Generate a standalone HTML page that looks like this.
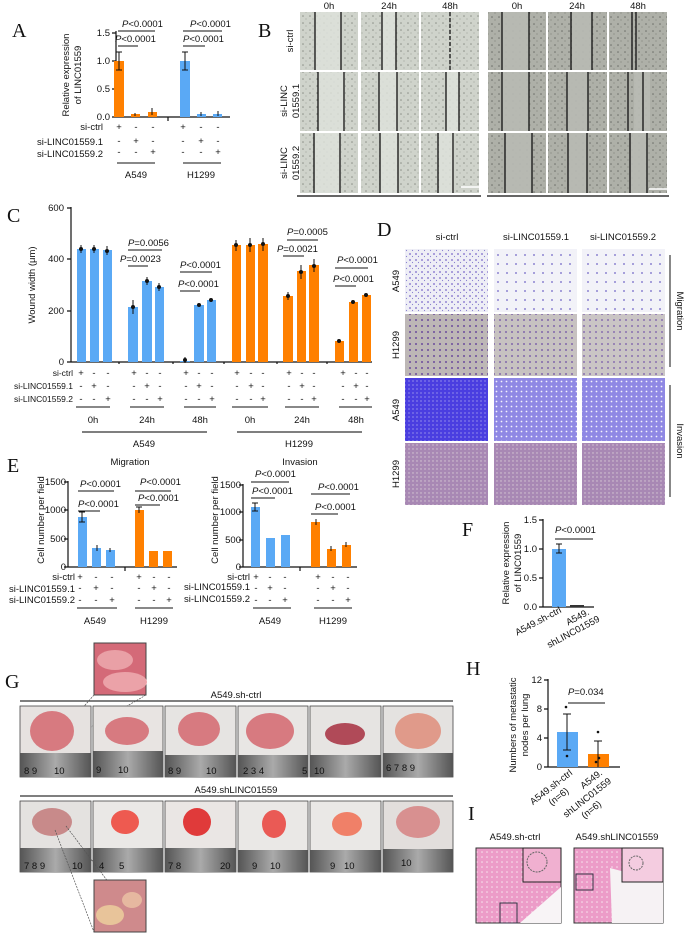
<!DOCTYPE html>
<html><head><meta charset="utf-8"><style>
html,body{margin:0;padding:0;background:#fff}
svg{display:block}
text{font-family:"Liberation Sans",sans-serif;font-size:9.5px;fill:#111}
.L{font-family:"Liberation Serif",serif;font-size:20px}
.s{font-size:8.5px}
.ax{stroke:#111;stroke-width:1.2;fill:none}
.ln{stroke:#111;stroke-width:1;fill:none}
.b{fill:#5aa9f5}.o{fill:#ff8000}
</style></head><body>
<svg width="685" height="934" viewBox="0 0 685 934" xmlns="http://www.w3.org/2000/svg">
<defs>
<pattern id="cellL" width="7" height="7" patternUnits="userSpaceOnUse"><rect width="7" height="7" fill="#cfd3cb"/><circle cx="2" cy="2" r="0.8" fill="#8c9088"/><circle cx="5" cy="5" r="0.6" fill="#a0a49c"/></pattern>
<pattern id="cellD" width="7" height="7" patternUnits="userSpaceOnUse"><rect width="7" height="7" fill="#aeb0a8"/><circle cx="2" cy="3" r="0.8" fill="#6c6e68"/><circle cx="5" cy="6" r="0.6" fill="#80827c"/></pattern>
<pattern id="migA" width="6" height="6" patternUnits="userSpaceOnUse"><rect width="6" height="6" fill="#eeeef6"/><circle cx="2" cy="2" r="0.9" fill="#7a66c8"/><circle cx="4.5" cy="4.5" r="0.6" fill="#8a80d0"/></pattern>
<pattern id="migS" width="9" height="9" patternUnits="userSpaceOnUse"><rect width="9" height="9" fill="#f2f2f8"/><circle cx="3" cy="3" r="0.9" fill="#6f64c6"/></pattern>
<pattern id="migH" width="6" height="6" patternUnits="userSpaceOnUse"><rect width="6" height="6" fill="#bdb7b6"/><circle cx="2" cy="2" r="1" fill="#6b4c9c"/></pattern>
<pattern id="invA" width="4" height="4" patternUnits="userSpaceOnUse"><rect width="4" height="4" fill="#4a3ee0"/><circle cx="1" cy="1" r="0.6" fill="#c0c0f2"/></pattern>
<pattern id="invS" width="5" height="5" patternUnits="userSpaceOnUse"><rect width="5" height="5" fill="#8f88e4"/><circle cx="1.5" cy="1.5" r="0.9" fill="#f2f2fc"/></pattern>
<pattern id="invH" width="4" height="4" patternUnits="userSpaceOnUse"><rect width="4" height="4" fill="#a888b4"/><circle cx="1" cy="1" r="0.7" fill="#d8ccd6"/></pattern>
<pattern id="he" width="5" height="5" patternUnits="userSpaceOnUse"><rect width="5" height="5" fill="#ec9cc8"/><circle cx="2" cy="2" r="0.8" fill="#f8e4ee"/></pattern>
<linearGradient id="rul" x1="0" y1="0" x2="1" y2="0"><stop offset="0" stop-color="#555"/><stop offset="0.5" stop-color="#aaa"/><stop offset="1" stop-color="#555"/></linearGradient>
</defs>

<!-- ===== A ===== -->
<text x="12" y="37" class="L">A</text>
<g transform="translate(73,75) rotate(-90)"><text x="0" y="-4" text-anchor="middle">Relative expression</text><text x="0" y="8" text-anchor="middle">of LINC01559</text></g>
<path class="ax" d="M116,31V117H230M112,33H116M112,61H116M112,89H116M112,117H116M168,117V121"/>
<text x="110" y="36" text-anchor="end">1.5</text><text x="110" y="64" text-anchor="end">1.0</text><text x="110" y="92" text-anchor="end">0.5</text><text x="110" y="120" text-anchor="end">0.0</text>
<rect class="o" x="114" y="61" width="10" height="56"/><rect class="o" x="131" y="114" width="9" height="3"/><rect class="o" x="148" y="112" width="9" height="5"/>
<rect class="b" x="180" y="61" width="10" height="56"/><rect class="b" x="197" y="114" width="9" height="3"/><rect class="b" x="213" y="114" width="9" height="3"/>
<path class="ln" d="M119,52V70M116,52H122M116,70H122M185,52V70M182,52H188M182,70H188M135,113V116M152,108V115M201,112V116M218,111V116"/>
<text x="122" y="27"><tspan font-style="italic">P</tspan>&lt;0.0001</text><path class="ln" d="M118,31H155"/>
<text x="115" y="42"><tspan font-style="italic">P</tspan>&lt;0.0001</text><path class="ln" d="M118,46H138"/>
<text x="190" y="27"><tspan font-style="italic">P</tspan>&lt;0.0001</text><path class="ln" d="M183,31H222"/>
<text x="183" y="42"><tspan font-style="italic">P</tspan>&lt;0.0001</text><path class="ln" d="M183,46H205"/>
<text x="103" y="130" text-anchor="end">si-ctrl</text><text x="103" y="145" text-anchor="end">si-LINC01559.1</text><text x="103" y="157" text-anchor="end">si-LINC01559.2</text>
<g text-anchor="middle">
<text x="119" y="130">+</text><text x="136" y="130">-</text><text x="153" y="130">-</text><text x="183" y="130">+</text><text x="201" y="130">-</text><text x="218" y="130">-</text>
<text x="119" y="144">-</text><text x="136" y="144">+</text><text x="153" y="144">-</text><text x="183" y="144">-</text><text x="201" y="144">+</text><text x="218" y="144">-</text>
<text x="119" y="155">-</text><text x="136" y="155">-</text><text x="153" y="155">+</text><text x="183" y="155">-</text><text x="201" y="155">-</text><text x="218" y="155">+</text>
<text x="136" y="178">A549</text><text x="201" y="178">H1299</text></g>
<path class="ln" d="M117,163H155M183,163H221"/>

<!-- ===== B ===== -->
<text x="258" y="37" class="L">B</text>
<g text-anchor="middle"><text x="329" y="9">0h</text><text x="389" y="9">24h</text><text x="450" y="9">48h</text><text x="517" y="9">0h</text><text x="577" y="9">24h</text><text x="638" y="9">48h</text></g>
<g transform="translate(293,41) rotate(-90)"><text text-anchor="middle">si-ctrl</text></g>
<g transform="translate(287,101) rotate(-90)"><text text-anchor="middle">si-LINC</text><text y="12" text-anchor="middle">01559.1</text></g>
<g transform="translate(287,163) rotate(-90)"><text text-anchor="middle">si-LINC</text><text y="12" text-anchor="middle">01559.2</text></g>
<g fill="url(#cellL)"><rect x="300" y="12" width="58" height="58"/><rect x="361" y="12" width="58" height="58"/><rect x="421" y="12" width="58" height="58"/>
<rect x="300" y="72" width="58" height="59"/><rect x="361" y="72" width="58" height="59"/><rect x="421" y="72" width="58" height="59"/>
<rect x="300" y="133" width="58" height="60"/><rect x="361" y="133" width="58" height="60"/><rect x="421" y="133" width="58" height="60"/></g>
<g fill="url(#cellD)"><rect x="488" y="12" width="58" height="58"/><rect x="548" y="12" width="59" height="58"/><rect x="609" y="12" width="58" height="58"/>
<rect x="488" y="72" width="58" height="59"/><rect x="548" y="72" width="59" height="59"/><rect x="609" y="72" width="58" height="59"/>
<rect x="488" y="133" width="58" height="60"/><rect x="548" y="133" width="59" height="60"/><rect x="609" y="133" width="58" height="60"/></g>
<g fill="#dfe3dc" opacity="0.8"><rect x="315" y="12" width="26" height="58"/><rect x="318" y="72" width="27" height="59"/><rect x="315" y="133" width="26" height="60"/>
<rect x="382" y="12" width="14" height="58"/><rect x="379" y="72" width="18" height="59"/><rect x="380" y="133" width="18" height="60"/><rect x="446" y="72" width="13" height="59"/><rect x="439" y="133" width="15" height="60"/></g>
<g fill="#b9bbb4" opacity="0.9"><rect x="502" y="12" width="27" height="58"/><rect x="502" y="72" width="27" height="59"/><rect x="505" y="133" width="27" height="60"/><rect x="572" y="12" width="20" height="58"/><rect x="567" y="72" width="21" height="59"/><rect x="568" y="133" width="19" height="60"/><rect x="634" y="72" width="16" height="59"/><rect x="631" y="133" width="17" height="60"/></g>
<g stroke="#111" stroke-width="1.3"><path d="M315,12V70M341,12V70M382,12V70M396,12V70M318,72V131M344,72V131M379,72V131M397,72V131M446,72V131M459,72V131M314,133V193M340,133V193M380,133V193M398,133V193M438,133V193M453,133V193"/>
<path d="M450,12V70" stroke-dasharray="4,2"/>
<path d="M502,12V70M529,12V70M571,12V70M592,12V70M632,12V70M636,12V70M502,72V131M529,72V131M567,72V131M588,72V131M628,72V131M643,72V131M505,133V193M532,133V193M568,133V193M587,133V193M630,133V193M647,133V193"/></g>
<path d="M461,187H479M649,189H667" stroke="#fff" stroke-width="1.5"/>
<path d="M297,196H481M487,196H669" stroke="#333" stroke-width="1.5"/>

<!-- ===== C ===== -->
<text x="7" y="222" class="L">C</text>
<g transform="translate(35,285) rotate(-90)"><text text-anchor="middle">Wound width (μm)</text></g>
<path class="ax" d="M71,207V362H372M67,208H71M67,259H71M67,311H71M67,362H71M119,362V364M173,362V364M224,362V364M277,362V364M327,362V364"/>
<text x="64" y="211" text-anchor="end">600</text><text x="64" y="262" text-anchor="end">400</text><text x="64" y="314" text-anchor="end">200</text><text x="64" y="365" text-anchor="end">0</text>
<g class="b"><rect x="77" y="249" width="9" height="113"/><rect x="90" y="249" width="9" height="113"/><rect x="103" y="250" width="9" height="112"/>
<rect x="128" y="307" width="10" height="55"/><rect x="142" y="281" width="10" height="81"/><rect x="155" y="287" width="9" height="75"/>
<rect x="180" y="361" width="10" height="1"/><rect x="194" y="305" width="10" height="57"/><rect x="207" y="300" width="9" height="62"/></g>
<g class="o"><rect x="232" y="245" width="9" height="117"/><rect x="246" y="245" width="9" height="117"/><rect x="258" y="244" width="10" height="118"/>
<rect x="283" y="296" width="10" height="66"/><rect x="297" y="271" width="9" height="91"/><rect x="309" y="265" width="10" height="97"/>
<rect x="335" y="341" width="9" height="21"/><rect x="349" y="302" width="9" height="60"/><rect x="362" y="295" width="9" height="67"/></g>
<g fill="#111"><circle cx="81" cy="249" r="2"/><circle cx="94" cy="249" r="2"/><circle cx="107" cy="251" r="2"/><circle cx="133" cy="307" r="2"/><circle cx="147" cy="281" r="2"/><circle cx="159" cy="287" r="2"/><circle cx="185" cy="360" r="2"/><circle cx="199" cy="305" r="2"/><circle cx="211" cy="300" r="2"/>
<circle cx="236" cy="245" r="2"/><circle cx="250" cy="245" r="2"/><circle cx="263" cy="244" r="2"/><circle cx="288" cy="296" r="2"/><circle cx="301" cy="272" r="2"/><circle cx="314" cy="266" r="2"/><circle cx="339" cy="341" r="2"/><circle cx="353" cy="302" r="2"/><circle cx="366" cy="295" r="2"/></g>
<path class="ln" d="M81,245V253M94,245V253M107,246V255M133,300V314M147,277V285M159,283V291M185,357V363M236,240V251M250,238V252M263,238V251M288,292V300M301,265V279M314,259V272"/>
<text x="128" y="246"><tspan font-style="italic">P</tspan>=0.0056</text><path class="ln" d="M128,250H162"/>
<text x="120" y="262"><tspan font-style="italic">P</tspan>=0.0023</text><path class="ln" d="M128,266H148"/>
<text x="180" y="268"><tspan font-style="italic">P</tspan>&lt;0.0001</text><path class="ln" d="M180,272H212"/>
<text x="178" y="287"><tspan font-style="italic">P</tspan>&lt;0.0001</text><path class="ln" d="M180,291H200"/>
<text x="287" y="235"><tspan font-style="italic">P</tspan>=0.0005</text><path class="ln" d="M287,240H318"/>
<text x="277" y="252"><tspan font-style="italic">P</tspan>=0.0021</text><path class="ln" d="M283,256H304"/>
<text x="337" y="263"><tspan font-style="italic">P</tspan>&lt;0.0001</text><path class="ln" d="M335,268H368"/>
<text x="333" y="282"><tspan font-style="italic">P</tspan>&lt;0.0001</text><path class="ln" d="M335,286H356"/>
<text x="73" y="376" text-anchor="end" class="s">si-ctrl</text><text x="73" y="389" text-anchor="end" class="s">si-LINC01559.1</text><text x="73" y="402" text-anchor="end" class="s">si-LINC01559.2</text>
<g text-anchor="middle" class="s">
<text x="81" y="376">+</text><text x="94" y="376">-</text><text x="108" y="376">-</text><text x="134" y="376">+</text><text x="147" y="376">-</text><text x="160" y="376">-</text><text x="186" y="376">+</text><text x="199" y="376">-</text><text x="212" y="376">-</text><text x="237" y="376">+</text><text x="251" y="376">-</text><text x="263" y="376">-</text><text x="289" y="376">+</text><text x="302" y="376">-</text><text x="314" y="376">-</text><text x="343" y="376">+</text><text x="356" y="376">-</text><text x="367" y="376">-</text>
<text x="81" y="389">-</text><text x="94" y="389">+</text><text x="108" y="389">-</text><text x="134" y="389">-</text><text x="147" y="389">+</text><text x="160" y="389">-</text><text x="186" y="389">-</text><text x="199" y="389">+</text><text x="212" y="389">-</text><text x="237" y="389">-</text><text x="251" y="389">+</text><text x="263" y="389">-</text><text x="289" y="389">-</text><text x="302" y="389">+</text><text x="314" y="389">-</text><text x="343" y="389">-</text><text x="356" y="389">+</text><text x="367" y="389">-</text>
<text x="81" y="402">-</text><text x="94" y="402">-</text><text x="108" y="402">+</text><text x="134" y="402">-</text><text x="147" y="402">-</text><text x="160" y="402">+</text><text x="186" y="402">-</text><text x="199" y="402">-</text><text x="212" y="402">+</text><text x="237" y="402">-</text><text x="251" y="402">-</text><text x="263" y="402">+</text><text x="289" y="402">-</text><text x="302" y="402">-</text><text x="314" y="402">+</text><text x="343" y="402">-</text><text x="356" y="402">-</text><text x="367" y="402">+</text></g>
<path class="ln" d="M76,407H110M130,407H164M184,407H216M232,407H268M285,407H319M339,407H372"/>
<g text-anchor="middle"><text x="93" y="423">0h</text><text x="147" y="423">24h</text><text x="200" y="423">48h</text><text x="250" y="423">0h</text><text x="302" y="423">24h</text><text x="356" y="423">48h</text>
<text x="144" y="447">A549</text><text x="299" y="447">H1299</text></g>
<path d="M82,432H207M237,432H362" stroke="#333" stroke-width="1.3"/>

<!-- ===== D ===== -->
<text x="377" y="236" class="L">D</text>
<g text-anchor="middle"><text x="447" y="240">si-ctrl</text><text x="536" y="240">si-LINC01559.1</text><text x="623" y="240">si-LINC01559.2</text></g>
<rect x="405" y="249" width="83" height="63" fill="url(#migA)"/><rect x="494" y="249" width="83" height="63" fill="url(#migS)"/><rect x="582" y="249" width="83" height="63" fill="url(#migS)"/>
<rect x="405" y="314" width="83" height="62" fill="url(#migH)"/><rect x="494" y="314" width="83" height="62" fill="url(#migH)" opacity="0.85"/><rect x="582" y="314" width="83" height="62" fill="url(#migH)" opacity="0.8"/>
<rect x="405" y="378" width="83" height="63" fill="url(#invA)"/><rect x="494" y="378" width="83" height="63" fill="url(#invS)"/><rect x="582" y="378" width="83" height="63" fill="url(#invS)"/>
<rect x="405" y="443" width="83" height="62" fill="url(#invH)"/><rect x="494" y="443" width="83" height="62" fill="url(#invH)"/><rect x="582" y="443" width="83" height="62" fill="url(#invH)"/>
<g transform="translate(399,281) rotate(-90)"><text text-anchor="middle">A549</text></g>
<g transform="translate(399,345) rotate(-90)"><text text-anchor="middle">H1299</text></g>
<g transform="translate(399,410) rotate(-90)"><text text-anchor="middle">A549</text></g>
<g transform="translate(399,474) rotate(-90)"><text text-anchor="middle">H1299</text></g>
<path class="ln" d="M670,255V367M670,385V497"/>
<g transform="translate(677,311) rotate(90)"><text text-anchor="middle">Migration</text></g>
<g transform="translate(677,441) rotate(90)"><text text-anchor="middle">Invasion</text></g>

<!-- ===== E ===== -->
<text x="7" y="472" class="L">E</text>
<text x="130" y="465" text-anchor="middle">Migration</text><text x="300" y="465" text-anchor="middle">Invasion</text>
<g transform="translate(44,520) rotate(-90)"><text text-anchor="middle">Cell number  per field</text></g>
<g transform="translate(218,520) rotate(-90)"><text text-anchor="middle">Cell number  per field</text></g>
<path class="ax" d="M68,481V567H177M64,482H68M64,510H68M64,539H68M64,567H68M125,567V571"/>
<text x="66" y="485" text-anchor="end">1500</text><text x="66" y="513" text-anchor="end">1000</text><text x="66" y="542" text-anchor="end">500</text><text x="66" y="570" text-anchor="end">0</text>
<rect class="b" x="78" y="517" width="9" height="50"/><rect class="b" x="92" y="548" width="9" height="19"/><rect class="b" x="106" y="550" width="9" height="17"/>
<rect class="o" x="135" y="510" width="9" height="57"/><rect class="o" x="149" y="551" width="9" height="16"/><rect class="o" x="163" y="551" width="9" height="16"/>
<path class="ln" d="M82,512V522M79,512H85M79,522H85M97,545V551M110,548V552M139,507V513M136,507H142"/>
<text x="80" y="487"><tspan font-style="italic">P</tspan>&lt;0.0001</text><path class="ln" d="M78,491H114"/>
<text x="78" y="507"><tspan font-style="italic">P</tspan>&lt;0.0001</text><path class="ln" d="M78,511H100"/>
<text x="140" y="485"><tspan font-style="italic">P</tspan>&lt;0.0001</text><path class="ln" d="M135,491H171"/>
<text x="138" y="501"><tspan font-style="italic">P</tspan>&lt;0.0001</text><path class="ln" d="M135,505H160"/>
<path class="ax" d="M243,484V567H357M239,485H243M239,512H243M239,540H243M239,567H243M300,567V571"/>
<text x="241" y="488" text-anchor="end">1500</text><text x="241" y="515" text-anchor="end">1000</text><text x="241" y="543" text-anchor="end">500</text><text x="241" y="570" text-anchor="end">0</text>
<rect class="b" x="251" y="507" width="9" height="60"/><rect class="b" x="266" y="538" width="9" height="29"/><rect class="b" x="281" y="535" width="9" height="32"/>
<rect class="o" x="311" y="522" width="9" height="45"/><rect class="o" x="327" y="549" width="9" height="18"/><rect class="o" x="342" y="545" width="9" height="22"/>
<path class="ln" d="M255,503V511M252,503H258M252,511H258M316,519V525M331,546V551M346,542V547"/>
<text x="255" y="477"><tspan font-style="italic">P</tspan>&lt;0.0001</text><path class="ln" d="M251,482H289"/>
<text x="252" y="494"><tspan font-style="italic">P</tspan>&lt;0.0001</text><path class="ln" d="M251,498H275"/>
<text x="318" y="490"><tspan font-style="italic">P</tspan>&lt;0.0001</text><path class="ln" d="M311,494H350"/>
<text x="315" y="510"><tspan font-style="italic">P</tspan>&lt;0.0001</text><path class="ln" d="M311,514H338"/>
<text x="75" y="580" text-anchor="end">si-ctrl</text><text x="75" y="592" text-anchor="end">si-LINC01559.1</text><text x="75" y="603" text-anchor="end">si-LINC01559.2</text>
<text x="250" y="580" text-anchor="end">si-ctrl</text><text x="250" y="590" text-anchor="end">si-LINC01559.1</text><text x="250" y="602" text-anchor="end">si-LINC01559.2</text>
<g text-anchor="middle">
<text x="80" y="580">+</text><text x="96" y="580">-</text><text x="112" y="580">-</text><text x="139" y="580">+</text><text x="154" y="580">-</text><text x="169" y="580">-</text>
<text x="80" y="591">-</text><text x="96" y="591">+</text><text x="112" y="591">-</text><text x="139" y="591">-</text><text x="154" y="591">+</text><text x="169" y="591">-</text>
<text x="80" y="603">-</text><text x="96" y="603">-</text><text x="112" y="603">+</text><text x="139" y="603">-</text><text x="154" y="603">-</text><text x="169" y="603">+</text>
<text x="256" y="580">+</text><text x="270" y="580">-</text><text x="285" y="580">-</text><text x="318" y="580">+</text><text x="333" y="580">-</text><text x="348" y="580">-</text>
<text x="256" y="591">-</text><text x="270" y="591">+</text><text x="285" y="591">-</text><text x="318" y="591">-</text><text x="333" y="591">+</text><text x="348" y="591">-</text>
<text x="256" y="603">-</text><text x="270" y="603">-</text><text x="285" y="603">+</text><text x="318" y="603">-</text><text x="333" y="603">-</text><text x="348" y="603">+</text>
<text x="95" y="624">A549</text><text x="154" y="624">H1299</text><text x="270" y="624">A549</text><text x="333" y="624">H1299</text></g>
<path class="ln" d="M77,608H117M135,608H173M253,608H291M314,608H352"/>

<!-- ===== F ===== -->
<text x="462" y="536" class="L">F</text>
<g transform="translate(513,563) rotate(-90)"><text y="-4" text-anchor="middle">Relative expression</text><text y="8" text-anchor="middle">of LINC01559</text></g>
<path class="ax" d="M543,519V607H594M539,520H543M539,549H543M539,578H543M539,607H543"/>
<text x="537" y="523" text-anchor="end">1.5</text><text x="537" y="552" text-anchor="end">1.0</text><text x="537" y="581" text-anchor="end">0.5</text><text x="537" y="610" text-anchor="end">0.0</text>
<rect class="b" x="552" y="549" width="14" height="58"/><rect fill="#333" x="570" y="605" width="14" height="2"/>
<path class="ln" d="M559,544V553M556,544H562M556,553H562"/>
<text x="555" y="533"><tspan font-style="italic">P</tspan>&lt;0.0001</text><path class="ln" d="M555,539H593"/>
<g transform="translate(562,612) rotate(-28)"><text text-anchor="end">A549.sh-ctrl</text></g>
<g transform="translate(590,614) rotate(-28)"><text text-anchor="end">A549.</text><text x="6" y="11" text-anchor="end">shLINC01559</text></g>

<!-- ===== H ===== -->
<text x="466" y="675" class="L">H</text>
<g transform="translate(520,725) rotate(-90)"><text y="-4" text-anchor="middle">Numbers of metastatic</text><text y="8" text-anchor="middle">nodes per lung</text></g>
<path class="ax" d="M548,679V767H620M544,680H548M544,709H548M544,738H548M544,767H548"/>
<text x="542" y="683" text-anchor="end">12</text><text x="542" y="712" text-anchor="end">8</text><text x="542" y="741" text-anchor="end">4</text><text x="542" y="770" text-anchor="end">0</text>
<rect class="b" x="557" y="732" width="21" height="35"/><rect class="o" x="588" y="754" width="21" height="13"/>
<path class="ln" d="M567,714V750M563,714H571M563,750H571M598,741V767M594,741H602"/>
<g fill="#111"><circle cx="566" cy="707" r="1.3"/><circle cx="567" cy="756" r="1.3"/><circle cx="598" cy="732" r="1.3"/><circle cx="599" cy="758" r="1.3"/><circle cx="596" cy="762" r="1.3"/></g>
<text x="568" y="695"><tspan font-style="italic">P</tspan>=0.034</text><path class="ln" d="M568,703H605"/>
<g transform="translate(573,774) rotate(-38)"><text text-anchor="end">A549.sh-ctrl</text><text x="-14" y="12" text-anchor="end">(n=6)</text></g>
<g transform="translate(603,774) rotate(-38)"><text text-anchor="end">A549.</text><text x="2" y="12" text-anchor="end">shLINC01559</text><text x="-20" y="24" text-anchor="end">(n=6)</text></g>

<!-- ===== I ===== -->
<text x="468" y="820" class="L">I</text>
<text x="515" y="840" text-anchor="middle">A549.sh-ctrl</text><text x="617" y="840" text-anchor="middle">A549.shLINC01559</text>
<rect x="476" y="848" width="85" height="75" fill="url(#he)" stroke="#333"/>
<path d="M520,923L561,887V923Z" fill="#f8f4f6"/>
<rect x="523" y="848" width="38" height="34" fill="#f0b0d0" stroke="#222"/><circle cx="537" cy="862" r="10" fill="none" stroke="#666" stroke-dasharray="2,1"/>
<rect x="500" y="903" width="17" height="20" fill="none" stroke="#334"/>
<rect x="574" y="848" width="89" height="75" fill="url(#he)" stroke="#333"/>
<path d="M610,868L663,882V923H612Z" fill="#f6f2f4"/>
<rect x="622" y="848" width="41" height="34" fill="#f4cce0" stroke="#222"/><circle cx="636" cy="863" r="7" fill="none" stroke="#666" stroke-dasharray="2,1"/>
<rect x="576" y="874" width="17" height="16" fill="none" stroke="#334"/>

<!-- ===== G ===== -->
<text x="5" y="688" class="L">G</text>
<rect x="94" y="643" width="52" height="52" fill="#d46a78" stroke="#444"/>
<ellipse cx="115" cy="660" rx="18" ry="10" fill="#e9a0a6"/><ellipse cx="125" cy="682" rx="22" ry="10" fill="#eba2a8"/>
<path d="M94,695L55,739M146,695L60,745" stroke="#555" stroke-width="0.7" stroke-dasharray="2,1"/>
<text x="236" y="698" text-anchor="middle">A549.sh-ctrl</text>
<path d="M20,701H453" stroke="#555" stroke-width="1.5"/>
<g stroke="#444" stroke-width="0.8">
<rect x="20" y="706" width="71" height="71" fill="#e6e2e0"/><rect x="93" y="706" width="70" height="71" fill="#e8e4e2"/><rect x="165" y="706" width="71" height="71" fill="#e6e4e2"/><rect x="238" y="706" width="70" height="71" fill="#e8e6e4"/><rect x="310" y="706" width="71" height="71" fill="#e6e4e2"/><rect x="383" y="706" width="70" height="71" fill="#e4e2e0"/>
<rect x="20" y="801" width="71" height="71" fill="#e4e2e0"/><rect x="93" y="801" width="70" height="71" fill="#eae8e6"/><rect x="165" y="801" width="71" height="71" fill="#eae6e4"/><rect x="238" y="801" width="70" height="71" fill="#eae8e6"/><rect x="310" y="801" width="71" height="71" fill="#eae8e6"/><rect x="383" y="801" width="70" height="71" fill="#e2dedc"/></g>
<g fill="url(#rul)"><rect x="20" y="753" width="71" height="24"/><rect x="93" y="751" width="70" height="26"/><rect x="165" y="755" width="71" height="22"/><rect x="238" y="755" width="70" height="22"/><rect x="310" y="755" width="71" height="22"/><rect x="383" y="753" width="70" height="24"/>
<rect x="20" y="848" width="71" height="24"/><rect x="93" y="848" width="70" height="24"/><rect x="165" y="848" width="71" height="24"/><rect x="238" y="850" width="70" height="22"/><rect x="310" y="850" width="71" height="22"/><rect x="383" y="849" width="70" height="23"/></g>
<g fill="#d77a80"><ellipse cx="52" cy="731" rx="22" ry="20"/><ellipse cx="127" cy="731" rx="22" ry="14"/><ellipse cx="199" cy="729" rx="21" ry="17"/><ellipse cx="270" cy="731" rx="24" ry="18"/><ellipse cx="345" cy="734" rx="20" ry="11" fill="#b04a58"/><ellipse cx="418" cy="731" rx="23" ry="18" fill="#e09a8a"/>
<ellipse cx="52" cy="822" rx="20" ry="14" fill="#c88a8a"/><ellipse cx="125" cy="822" rx="14" ry="12" fill="#ee5a50"/><ellipse cx="197" cy="822" rx="14" ry="14" fill="#e03a3a"/><ellipse cx="274" cy="824" rx="12" ry="14" fill="#ea5a55"/><ellipse cx="347" cy="824" rx="15" ry="12" fill="#f08068"/><ellipse cx="418" cy="822" rx="22" ry="16" fill="#d89090"/></g>
<g font-size="9" fill="#eee"><text x="24" y="774" fill="#ddd">8  9</text><text x="54" y="774" fill="#c33">10</text><text x="96" y="773" fill="#ddd">9</text><text x="118" y="773" fill="#c33">10</text><text x="168" y="774" fill="#ddd">8  9</text><text x="206" y="774" fill="#c33">10</text><text x="243" y="774" fill="#ddd">2  3  4</text><text x="302" y="774" fill="#c33">5</text><text x="314" y="774" fill="#c33">10</text><text x="386" y="771" fill="#ddd">6  7  8  9</text>
<text x="24" y="869" fill="#ddd">7  8  9</text><text x="72" y="869" fill="#c33">10</text><text x="99" y="869" fill="#ddd">4</text><text x="119" y="869" fill="#c33">5</text><text x="168" y="869" fill="#ddd">7  8</text><text x="220" y="869" fill="#c33">20</text><text x="252" y="869" fill="#ddd">9</text><text x="270" y="869" fill="#c33">10</text><text x="330" y="869" fill="#ddd">9</text><text x="344" y="869" fill="#c33">10</text><text x="401" y="866" fill="#c33">10</text></g>
<text x="236" y="793" text-anchor="middle">A549.shLINC01559</text>
<path d="M20,796H453" stroke="#555" stroke-width="1.5"/>
<path d="M55,830L94,932M66,826L146,932" stroke="#555" stroke-width="0.7" stroke-dasharray="2,1"/>
<rect x="94" y="880" width="52" height="52" fill="#cf8a8c" stroke="#444"/>
<ellipse cx="110" cy="915" rx="14" ry="10" fill="#e8c49a"/><ellipse cx="132" cy="900" rx="10" ry="8" fill="#e6b8a0"/>
</svg>
</body></html>
